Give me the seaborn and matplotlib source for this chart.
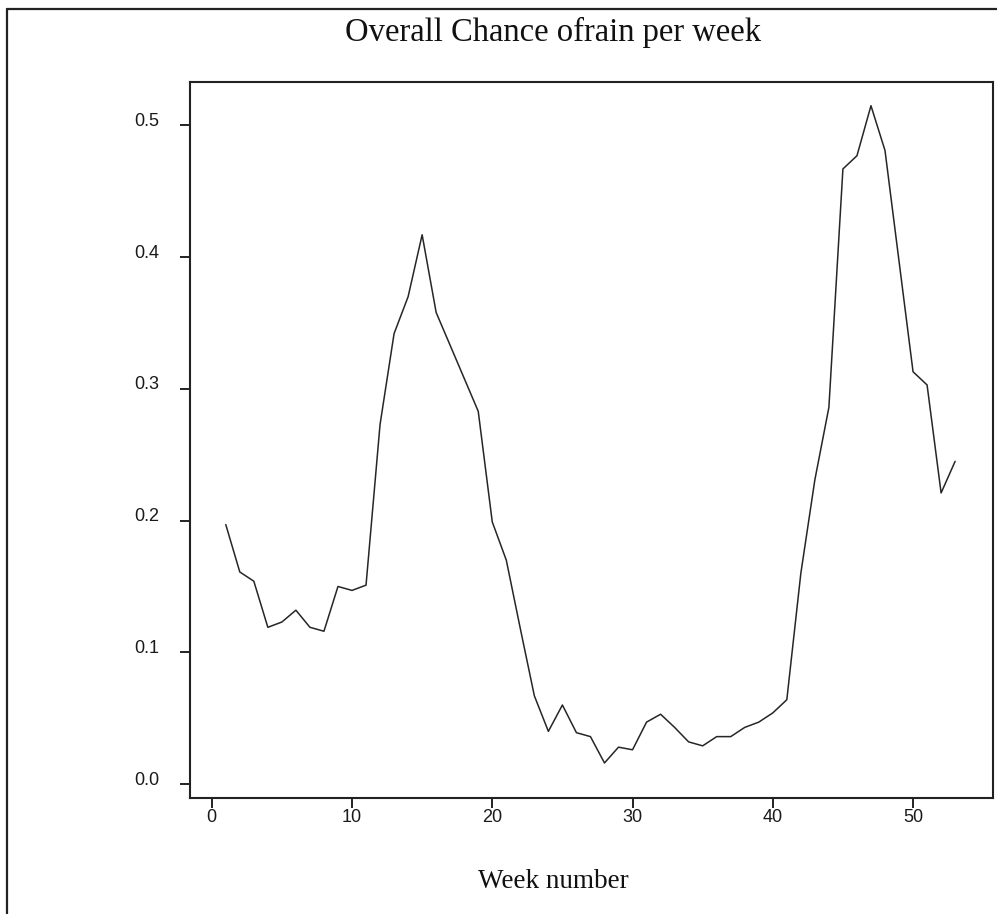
import matplotlib
matplotlib.use("Agg")
import matplotlib.pyplot as plt
import matplotlib.transforms as mtransforms
from matplotlib.lines import Line2D
import seaborn as sns
import pandas as pd

weeks = list(range(1, 54))
chance = [0.197, 0.161, 0.154, 0.119, 0.123, 0.132, 0.119, 0.116, 0.150, 0.147,
          0.151, 0.273, 0.342, 0.370, 0.417, 0.358, 0.333, 0.308, 0.283, 0.199,
          0.170, 0.118, 0.067, 0.040, 0.060, 0.039, 0.036, 0.016, 0.028, 0.026,
          0.047, 0.053, 0.043, 0.032, 0.029, 0.036, 0.036, 0.043, 0.047, 0.054,
          0.064, 0.160, 0.231, 0.286, 0.467, 0.477, 0.515, 0.481, 0.397, 0.313,
          0.303, 0.221, 0.245]
x_ticks = [0, 10, 20, 30, 40, 50]
y_ticks = [0.0, 0.1, 0.2, 0.3, 0.4, 0.5]
y_tick_labels = ["0.0", "0.1", "0.2", "0.3", "0.4", "0.5"]
title_text = "Overall Chance ofrain per week"
xlabel_text = "Week number"

df = pd.DataFrame({"week": weeks, "chance": chance})

sns.set_style("ticks")
plt.rcParams["font.family"] = ["Liberation Sans", "DejaVu Sans"]

W, H = 997, 914
fig = plt.figure(figsize=(W / 100, H / 100), dpi=100)
fig.patch.set_facecolor("white")

left, right, bottom, top = 190, 993, 798, 82
ax = fig.add_axes([left / W, 1 - bottom / H, (right - left) / W, (bottom - top) / H])

sns.lineplot(data=df, x="week", y="chance", ax=ax, color="#262626", linewidth=1.1)

ax.set_xlim(-1.55, 55.7)
ax.set_ylim(-0.0106, 0.533)
ax.set_xticks(x_ticks)
ax.set_yticks(y_ticks)
ax.set_yticklabels(y_tick_labels)
ax.set_xlabel("")
ax.set_ylabel("")

for s in ax.spines.values():
    s.set_visible(True)
    s.set_linewidth(1.5)
    s.set_color("#222222")

ax.tick_params(axis="both", direction="out", length=7, width=1.4, color="#222222",
               labelsize=13, labelcolor="#1a1a1a")
ax.tick_params(axis="y", pad=15)
ax.tick_params(axis="x", pad=1)

offset = mtransforms.ScaledTranslation(0, 6 / 100, fig.dpi_scale_trans)
for lab in ax.get_yticklabels():
    lab.set_transform(lab.get_transform() + offset)

serif = ["Liberation Serif", "DejaVu Serif"]
fig.text(553 / W, 1 - 32 / H, title_text, ha="center", va="center",
         fontsize=23.5, family=serif, color="#111111")
fig.text(553 / W, 1 - 881 / H, xlabel_text, ha="center", va="center",
         fontsize=19.5, family=serif, color="#111111")

# outer frame of the scanned figure
fig.add_artist(Line2D([7 / W, 1.0], [1 - 9 / H, 1 - 9 / H], transform=fig.transFigure,
                      color="#222222", linewidth=1.6))
fig.add_artist(Line2D([7 / W, 7 / W], [0.0, 1 - 9 / H], transform=fig.transFigure,
                      color="#222222", linewidth=1.6))

fig.savefig("out.png", dpi=100)
